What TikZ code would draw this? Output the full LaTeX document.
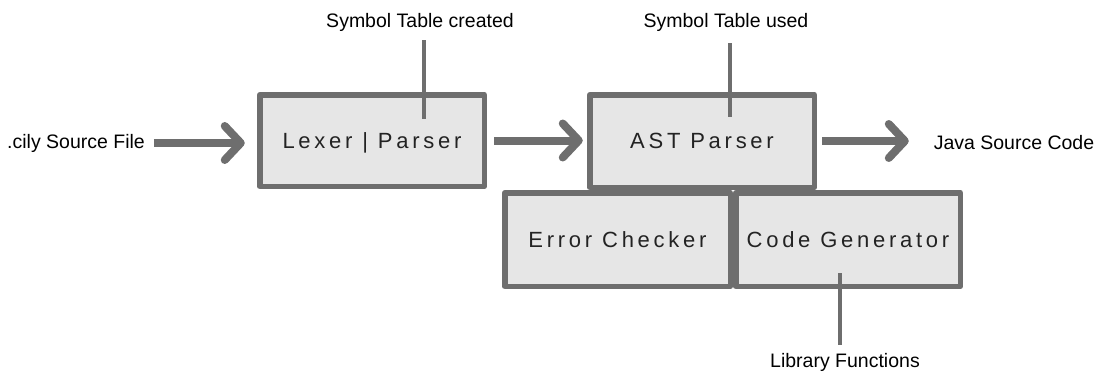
\documentclass[tikz,border=0pt]{standalone}
\usepackage{fontspec}
\setmainfont{Liberation Sans}
\newfontfamily\boxfont[LetterSpace=17]{Liberation Sans}
\usepackage{tikz}
\usetikzlibrary{arrows.meta}
\definecolor{box_gray}{RGB}{110,110,110}
\definecolor{box_fill}{RGB}{230,230,230}
\definecolor{text_dark}{RGB}{35,35,35}

\begin{document}
\begin{tikzpicture}[x=1pt,y=-1pt,line join=round]
    \tikzstyle{stage}=[draw=box_gray, line width=5.5pt, fill=box_fill, inner sep=0pt, outer sep=0pt, text=text_dark, text height=15.5pt, text depth=0pt, font=\boxfont\fontsize{22}{26}\selectfont]
    \tikzstyle{note}=[inner sep=0pt, outer sep=0pt, text=black, font=\fontsize{19.5}{23}\selectfont]
    \tikzstyle{flow}=[-{Straight Barb[length=16pt,width=34pt,round]}, line width=8pt, draw=box_gray]
    \tikzstyle{tap}=[line width=4.5pt, draw=box_gray]

    \useasboundingbox (0,0) rectangle (1096,372);

    \node[note] (src)  at (76,143)   {.cily Source File};
    \node[note] (java) at (1014,143) {Java Source Code};
    \node[note] (stc)  at (420,22)   {Symbol Table created};
    \node[note] (stu)  at (726,22)   {Symbol Table used};
    \node[note] (lib)  at (845,362)  {Library Functions};

    \node[stage, minimum width=224.5pt, minimum height=91.5pt] (lex) at (372,140.5)  {Lexer | Parser};
    \node[stage, minimum width=224.5pt, minimum height=92.5pt] (ast) at (702,141)    {AST Parser};
    \node[stage, minimum width=225.5pt, minimum height=93.5pt] (err) at (617.5,239.5) {Error Checker};
    \node[stage, minimum width=224.5pt, minimum height=93.5pt] (gen) at (848,239.5)   {Code Generator};

    \coordinate (stcend) at (424,119);
    \coordinate (stuend) at (730,117);
    \coordinate (libend) at (840,273);

    \path
     (src.east) edge[flow, shorten <=9pt, shorten >=15pt] (src.east -| lex.west)
     (lex.east) edge[flow, shorten <=10pt, shorten >=7pt] (lex.east -| ast.west)
     (ast.east) edge[flow, shorten <=8pt, shorten >=25pt] (ast.east -| java.west)
     (stcend |- stc.south) edge[tap, shorten <=9pt] (stcend)
     (stuend |- stu.south) edge[tap, shorten <=12pt] (stuend)
     (libend) edge[tap, shorten >=8pt] (libend |- lib.north)
     ;
\end{tikzpicture}
\end{document}
